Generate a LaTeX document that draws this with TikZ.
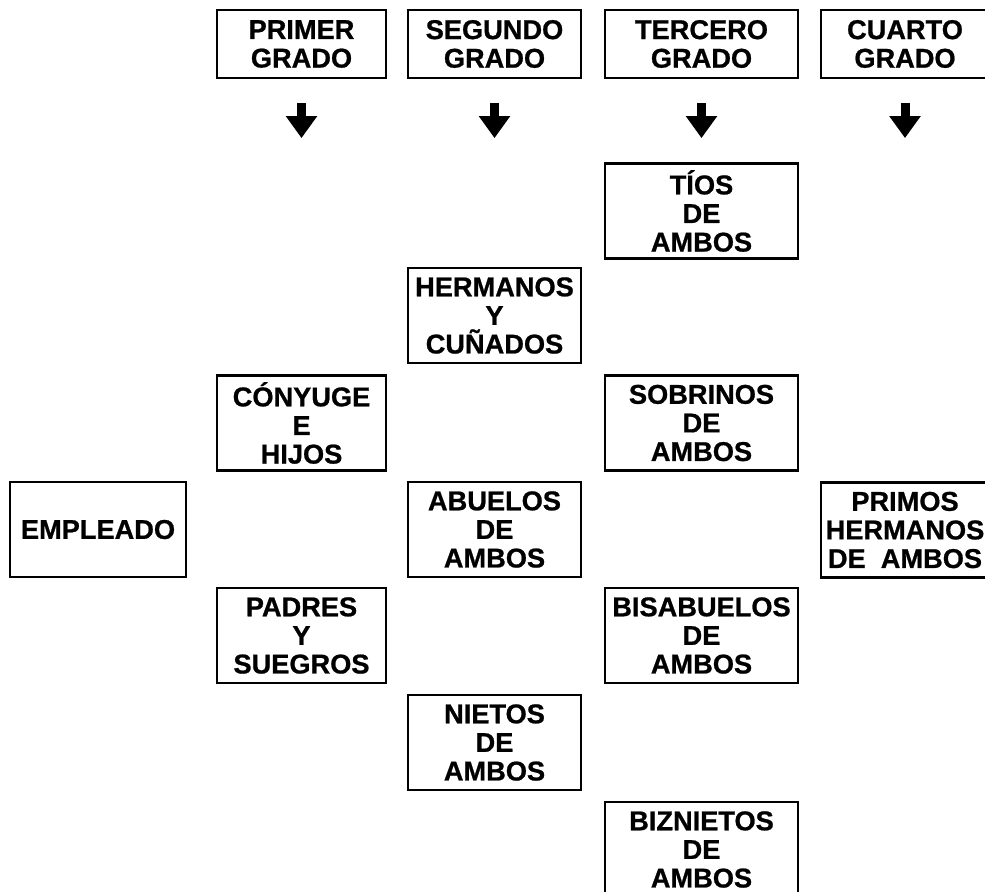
\documentclass[tikz,border=0pt]{standalone}
\usepackage{fontspec}
\setmainfont{Liberation Sans}
\newfontfamily\grueso[FakeBold=0.8]{Liberation Sans Bold}
\usetikzlibrary{arrows.meta}
\tikzset{
  bx/.style={rectangle, draw=black, line width=1.1pt, inner sep=0pt, minimum height=47.5pt, align=center, font=\grueso\fontsize{13.6}{14.3}\selectfont},
  gr/.style={bx, minimum height=34pt},
  ca/.style={minimum width=84.5pt},
  cb/.style={minimum width=86.5pt},
  cc/.style={minimum width=96.5pt},
  cd/.style={minimum width=84pt},
  flecha/.style={line width=4.5pt, -{Triangle[width=15pt,length=11pt]}}
}
\begin{document}
\begin{tikzpicture}[x=0.5pt, y=-0.5pt]
	\useasboundingbox (0,0) rectangle (985,891);
	% grados
	\node[gr, ca] (g1) at (301.5,44) {PRIMER\\GRADO};
	\node[gr, cb] (g2) at (494.5,44) {SEGUNDO\\GRADO};
	\node[gr, cc] (g3) at (701.5,44) {TERCERO\\GRADO};
	\node[gr, cd] (g4) at (905,44) {CUARTO\\GRADO};

	\draw[flecha] ([yshift=-12pt]g1.south) -- ++(0,35);
	\draw[flecha] ([yshift=-12pt]g2.south) -- ++(0,35);
	\draw[flecha] ([yshift=-12pt]g3.south) -- ++(0,35);
	\draw[flecha] ([yshift=-12pt]g4.south) -- ++(0,35);

	% parientes
	\node[bx, minimum width=88pt] (empleado) at (98,529.5) {EMPLEADO};

	\node[bx, ca] (conyuge) at (301.5,423) {CÓNYUGE\\E\\HIJOS};
	\node[bx, ca] (padres) at (301.5,635.5) {PADRES\\Y\\SUEGROS};

	\node[bx, cb] (hermanos) at (494.5,315.5) {HERMANOS\\Y\\CUÑADOS};
	\node[bx, cb] (abuelos) at (494.5,529.5) {ABUELOS\\DE\\AMBOS};
	\node[bx, cb] (nietos) at (494.5,742.5) {NIETOS\\DE\\AMBOS};

	\node[bx, cc] (tios) at (701.5,211) {TÍOS\\DE\\AMBOS};
	\node[bx, cc] (sobrinos) at (701.5,423) {SOBRINOS\\DE\\AMBOS};
	\node[bx, cc] (bisabuelos) at (701.5,635.5) {BISABUELOS\\DE\\AMBOS};
	\node[bx, cc] (biznietos) at (701.5,849.5) {BIZNIETOS\\DE\\AMBOS};

	\node[bx, cd] (primos) at (905,530) {PRIMOS\\HERMANOS\\DE~ AMBOS};
\end{tikzpicture}
\end{document}
